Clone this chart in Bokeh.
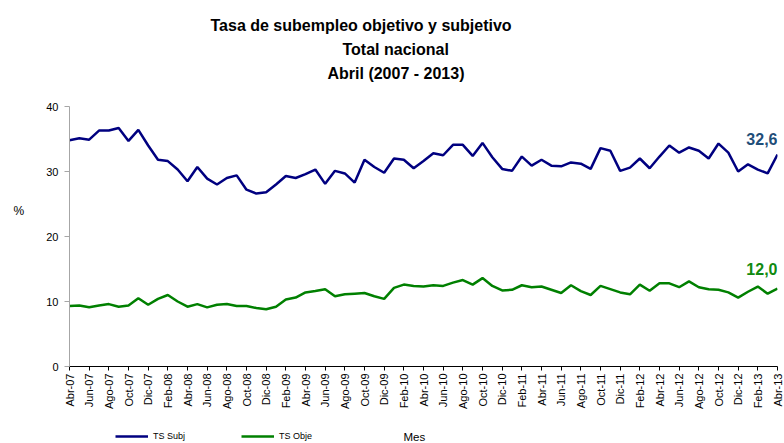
import math
from bokeh.plotting import figure
from bokeh.layouts import column
from bokeh.models import FixedTicker, Legend, LegendItem, ColumnDataSource, Range1d, Title, Label
from bokeh.embed import file_html
from bokeh.resources import INLINE
from bokeh.core.properties import value

# ---- data ----
abrev = ["Ene", "Feb", "Mar", "Abr", "May", "Jun", "Jul", "Ago", "Sep", "Oct", "Nov", "Dic"]
meses = []
for k in range(73):
    m = (3 + k) % 12
    yy = 7 + (3 + k) // 12
    meses.append(f"{abrev[m]}-{yy:02d}")

ts_subj = [34.8, 35.1, 34.9, 36.3, 36.3, 36.7, 34.7, 36.4, 34.0, 31.8,
           31.6, 30.3, 28.5, 30.7, 28.9, 28.0, 29.0, 29.4, 27.2, 26.6,
           26.8, 28.0, 29.3, 29.0, 29.6, 30.3, 28.1, 30.1, 29.7, 28.3,
           31.8, 30.7, 29.8, 32.0, 31.8, 30.5, 31.6, 32.8, 32.5, 34.1,
           34.1, 32.4, 34.4, 32.2, 30.4, 30.1, 32.3, 30.9, 31.8, 30.9,
           30.8, 31.4, 31.2, 30.4, 33.6, 33.2, 30.1, 30.6, 32.0, 30.5,
           32.3, 34.0, 32.9, 33.7, 33.2, 32.0, 34.3, 32.9, 30.0, 31.1,
           30.3, 29.7, 32.6]

ts_obje = [9.3, 9.4, 9.1, 9.4, 9.6, 9.2, 9.4, 10.5, 9.5, 10.4,
           11.0, 10.0, 9.2, 9.6, 9.1, 9.5, 9.6, 9.3, 9.3, 9.0,
           8.8, 9.2, 10.3, 10.6, 11.4, 11.6, 11.9, 10.8, 11.1, 11.2,
           11.3, 10.8, 10.4, 12.1, 12.6, 12.4, 12.3, 12.5, 12.4, 12.9,
           13.3, 12.6, 13.6, 12.4, 11.7, 11.8, 12.5, 12.2, 12.3, 11.8,
           11.3, 12.5, 11.6, 11.0, 12.4, 11.9, 11.4, 11.1, 12.6, 11.65,
           12.8, 12.8, 12.2, 13.1, 12.2, 11.9, 11.8, 11.4, 10.6, 11.5,
           12.3, 11.2, 12.0]

series_names = ["TS Subj", "TS Obje"]
series_colors = ["#000080", "#008000"]
y_ticks = [0, 10, 20, 30, 40]
x_idx = list(range(len(meses)))

title_lines = ["Tasa de subempleo objetivo y subjetivo", "Total nacional", "Abril (2007 - 2013)"]

FONT = "Liberation Sans"

src = ColumnDataSource(dict(x=x_idx, subj=ts_subj, obje=ts_obje))

# ---------------- main chart ----------------
p = figure(width=784, height=428, output_backend="svg", toolbar_location=None,
           x_range=Range1d(0, len(meses) - 1), y_range=Range1d(0, 40),
           min_border_left=69, min_border_right=7, min_border_top=106, min_border_bottom=62)
p.title.visible = False
p.outline_line_color = None
p.xgrid.visible = False
p.ygrid.visible = False
p.background_fill_color = "white"
p.border_fill_color = "white"

p.line("x", "subj", source=src, line_color=series_colors[0], line_width=2.5)
p.line("x", "obje", source=src, line_color=series_colors[1], line_width=2.5)

# end labels
p.text(x=[x_idx[-1]], y=[ts_subj[-1]], text=[f"{ts_subj[-1]:.1f}".replace(".", ",")],
       text_align="right", text_baseline="middle", y_offset=-16,
       text_font_size="16px", text_font_style="bold", text_color="#1F4E79", text_font=value(FONT))
p.text(x=[x_idx[-1]], y=[ts_obje[-1]], text=[f"{ts_obje[-1]:.1f}".replace(".", ",")],
       text_align="right", text_baseline="middle", y_offset=-20,
       text_font_size="16px", text_font_style="bold", text_color="#108A10", text_font=value(FONT))

# y axis
ya = p.yaxis[0]
ya.ticker = FixedTicker(ticks=y_ticks)
ya.axis_line_color = "#a6a6a6"
ya.major_tick_line_color = "#a6a6a6"
ya.major_tick_out = 5
ya.major_tick_in = 0
ya.minor_tick_line_color = None
ya.major_label_standoff = 6
ya.major_label_text_font = FONT
ya.major_label_text_font_size = "11px"
ya.major_label_text_color = "#000000"
ya.axis_label = "%\n \n \n "
ya.axis_label_orientation = "horizontal"
ya.axis_label_standoff = 19
ya.axis_label_text_font = FONT
ya.axis_label_text_font_size = "12px"
ya.axis_label_text_font_style = "normal"
ya.axis_label_text_color = "#000000"

# x axis
xa = p.xaxis[0]
xa.ticker = FixedTicker(ticks=list(range(0, len(meses), 2)))
xa.major_label_overrides = {i: meses[i] for i in range(0, len(meses), 2)}
xa.major_label_orientation = math.pi / 2
xa.axis_line_color = "#000000"
xa.major_tick_line_color = "#000000"
xa.major_tick_out = 4
xa.major_tick_in = 0
xa.minor_tick_line_color = None
xa.major_label_standoff = 3
xa.major_label_text_font = FONT
xa.major_label_text_font_size = "11px"
xa.major_label_text_color = "#000000"

# title lines: spacer closest to the frame, then lines from bottom to top
p.add_layout(Title(text=" ", standoff=0, text_font_size="18px"), "above")
title_offsets = [141, 273, 258]
for t, off in reversed(list(zip(title_lines, title_offsets))):
    p.add_layout(Title(text=t, align="left", offset=off, standoff=5,
                       text_font=FONT, text_font_size="16px", text_font_style="bold",
                       text_color="#000000"), "above")

# ---------------- legend strip (frame aligned with the chart frame) ----------------
q = figure(width=784, height=15, output_backend="svg", toolbar_location=None,
           x_range=Range1d(69, 777), y_range=Range1d(0, 15),
           min_border_left=69, min_border_right=7, min_border_top=0, min_border_bottom=0,
           x_axis_type=None, y_axis_type=None)
q.title.visible = False
q.outline_line_color = None
q.xgrid.visible = False
q.ygrid.visible = False
q.background_fill_color = "white"
q.border_fill_color = "white"

items = []
for name, col, ser in zip(series_names, series_colors, [ts_subj, ts_obje]):
    # a single first point, off the strip's range: only the legend swatch shows
    r = q.line(x=[x_idx[0]], y=[ser[0]], line_color=col, line_width=2.5)
    items.append(LegendItem(label=name, renderers=[r]))

legend = Legend(items=items, orientation="horizontal", location=(46, 1),
                padding=0, margin=0, spacing=56, label_standoff=5,
                glyph_width=33, glyph_height=12, label_height=12,
                label_text_font=FONT, label_text_font_size="9px", label_text_color="#000000",
                border_line_color=None, background_fill_alpha=0)
q.add_layout(legend, "center")
q.add_layout(Label(x=403, y=7, text="Mes", text_align="left", text_baseline="middle",
                   text_font=FONT, text_font_size="11.5px", text_color="#000000"))

layout = column(p, q, spacing=0)
open("out.html", "w").write(file_html(layout, INLINE))
